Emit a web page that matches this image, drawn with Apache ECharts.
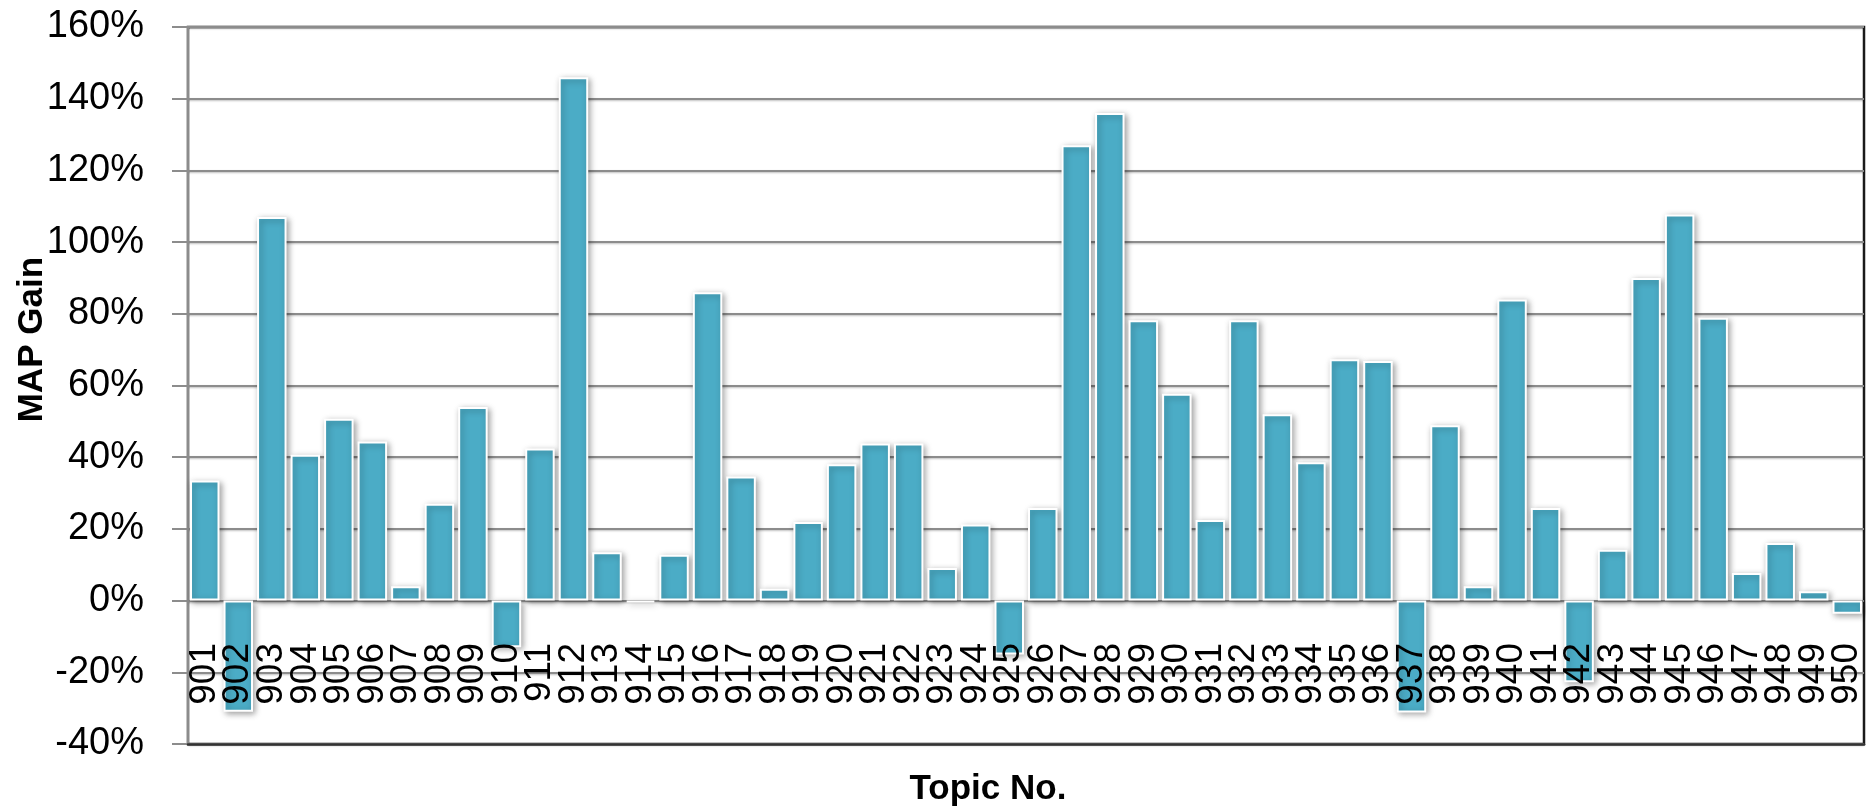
<!DOCTYPE html>
<html>
<head>
<meta charset="utf-8">
<script src="https://cdn.jsdelivr.net/npm/echarts@6/dist/echarts.min.js"></script>
<style>
html,body{margin:0;padding:0;background:#fff;}
#chart{width:1866px;height:807px;}
</style>
</head>
<body>
<div id="chart"></div>
<script>
const topics = ['901','902','903','904','905','906','907','908','909','910',
  '911','912','913','914','915','916','917','918','919','920',
  '921','922','923','924','925','926','927','928','929','930',
  '931','932','933','934','935','936','937','938','939','940',
  '941','942','943','944','945','946','947','948','949','950'];
const mapGain = [33.5,-31,107,40.7,50.7,44.4,4,27,54,-13,
  42.4,146,13.5,-0.5,12.8,86,34.6,3.3,21.9,38,
  43.8,43.8,9.1,21.2,-15,25.8,127,136,78.2,57.7,
  22.5,78.2,52,38.6,67.3,66.8,-31.2,48.9,4,84,
  25.8,-22.8,14.2,90,107.7,78.9,7.7,16.1,2.6,-3.7];
const yMin = -40, yMax = 160, yStep = 20;

const chart = echarts.init(document.getElementById('chart'));
chart.setOption({
  animation: false,
  backgroundColor: '#ffffff',
  textStyle: { fontFamily: 'Liberation Sans, Arial, sans-serif' },
  grid: {
    left: 188, right: 2, top: 27, bottom: 63,
    containLabel: false,
    outerBoundsMode: 'none',
    show: true, borderColor: '#1a1a1a', borderWidth: 2.5, backgroundColor: 'transparent'
  },
  xAxis: {
    type: 'category',
    data: topics,
    z: 3,
    axisLine: { onZero: false, lineStyle: { color: '#333', width: 2.5 } },
    axisTick: { show: false },
    axisLabel: {
      interval: 0, rotate: 90, margin: -101,
      fontSize: 37, color: '#000', fontFamily: 'Liberation Sans, Arial, sans-serif'
    },
    name: 'Topic No.',
    nameLocation: 'middle',
    nameGap: 28,
    nameMoveOverlap: false,
    nameTextStyle: { fontSize: 35, fontWeight: 'bold', color: '#000', padding: [0, 76, 0, 0] }
  },
  yAxis: {
    type: 'value',
    min: yMin, max: yMax, interval: yStep,
    z: 1,
    axisLine: { show: true, lineStyle: { color: '#8c8c8c', width: 2 } },
    axisTick: { show: true, length: 16, lineStyle: { color: '#8c8c8c', width: 2 } },
    axisLabel: {
      formatter: '{value}%', margin: 44, fontSize: 38, color: '#000'
    },
    splitLine: { show: true, lineStyle: { color: '#8c8c8c', width: 2,
      shadowColor: 'rgba(0,0,0,0.25)', shadowBlur: 2, shadowOffsetY: 1 } },
    name: 'MAP Gain',
    nameLocation: 'middle',
    nameGap: 138,
    nameMoveOverlap: false,
    nameTextStyle: { fontSize: 35, fontWeight: 'bold', color: '#000', padding: [0, 0, 0, 92] }
  },
  series: [{
    type: 'bar',
    data: mapGain,
    barWidth: '88%',
    itemStyle: {
      color: '#4BACC6',
      borderColor: '#ffffff',
      borderWidth: 2,
      shadowColor: 'rgba(0,0,0,0.35)',
      shadowBlur: 6,
      shadowOffsetX: 2,
      shadowOffsetY: 2
    }
  }]
});
</script>
</body>
</html>
